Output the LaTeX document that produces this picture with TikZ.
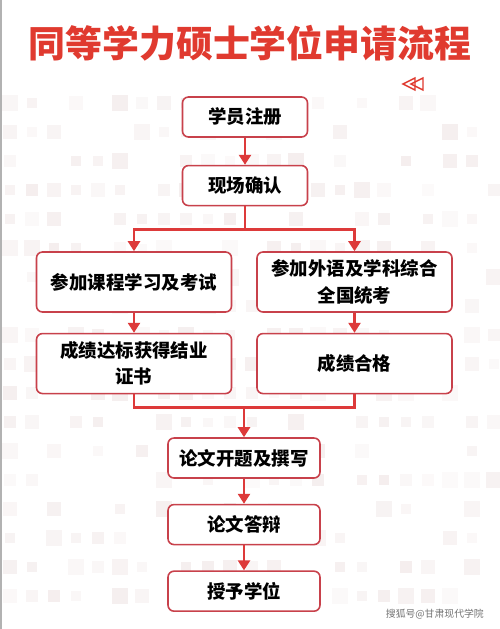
\documentclass[tikz,border=0pt]{standalone}
\usepackage{fontspec}
\setmainfont{Noto Sans CJK SC}
\usetikzlibrary{arrows.meta,positioning}
\definecolor{titlered}{HTML}{E03A2F}
\definecolor{boxred}{HTML}{C8414B}
\definecolor{linered}{HTML}{DD3A3A}
\definecolor{sqcol}{HTML}{E8D8D8}

\begin{document}
\begin{tikzpicture}[
        % Estilos das caixas
        stepbox/.style={rectangle, rounded corners=1.2mm, draw=boxred, line width=0.9pt, fill=white, minimum width=2.5cm, minimum height=0.8cm, align=center, font=\fontsize{10.5}{15}\selectfont\bfseries},
        widebox/.style={stepbox, minimum width=3.9cm, minimum height=1.2cm},
        lowbox/.style={stepbox, minimum width=3.04cm},
        % Estilos das setas
        flowline/.style={line width=1.4pt, draw=linered},
        flowarrow/.style={flowline, -{Triangle[length=2mm, width=2.4mm]}},
        % Estilo do título
        titletext/.style={font=\fontsize{21}{24}\selectfont\bfseries, text=titlered}
    ]

    \useasboundingbox (0,0) rectangle (10,-12.58);
    \fill[white] (0,0) rectangle (10,-12.58);
    \fill[black!30] (0,0) rectangle (0.04,-12.58);

    % Fundo de quadrados claros
    \pgfmathsetseed{11}
    \foreach \r in {0,...,17}{
        \foreach \c in {0,...,22}{
            \pgfmathsetmacro{\p}{rnd}
            \pgfmathsetmacro{\s}{0.18+0.16*rnd}
            \pgfmathsetmacro{\o}{0.12+0.3*rnd}
            \ifdim\p pt>0.35pt
                \fill[sqcol, fill opacity=\o] ({0.2+0.44*\c-\s/2},{-2.06-0.58*\r-\s/2}) rectangle ++(\s,\s);
            \fi
        }
    }

    % Título
    \node[titletext] (title) at (5,-0.86) {同等学力硕士学位申请流程};

    % Símbolo de setas duplas
    \draw[titlered, line width=0.8pt, line join=miter] (8.06,-1.68) -- (8.3,-1.56) -- (8.3,-1.80) -- cycle;
    \draw[titlered, line width=0.8pt, line join=miter] (8.22,-1.68) -- (8.46,-1.56) -- (8.46,-1.80) -- cycle;

    % Etapas iniciais
    \node[stepbox] (reg) at (4.9,-2.34) {学员注册};
    \node[stepbox, below=0.54cm of reg] (confirm) {现场确认};

    % Dois ramos
    \node[widebox] (course) at (2.68,-5.64) {参加课程学习及考试};
    \node[widebox] (exam) at (7.09,-5.64) {参加外语及学科综合\\全国统考};
    \node[widebox, below=0.4cm of course] (cert) {成绩达标获得结业\\证书};
    \node[widebox, below=0.4cm of exam] (pass) {成绩合格};

    % Etapas finais
    \node[lowbox] (thesis) at (4.88,-9.16) {论文开题及撰写};
    \node[lowbox, below=0.5cm of thesis] (defense) {论文答辩};
    \node[lowbox, below=0.5cm of defense] (degree) {授予学位};

    % Marca d'água
    \node[font=\fontsize{5.6}{6}\selectfont, text=black!55, anchor=east] (mark) at (9.8,-12.28) {搜狐号@甘肃现代学院};

    % ==========================================
    % Fluxos
    % ==========================================
    \draw[flowarrow] (reg) -- (confirm);
    \coordinate (split) at ([yshift=-0.46cm]confirm.south);
    \draw[flowline] (confirm.south) -- (split);
    \draw[flowarrow] (split) -| (course.north);
    \draw[flowarrow] (split) -| (exam.north);
    \draw[flowarrow] (course) -- (cert);
    \draw[flowarrow] (exam) -- (pass);

    % Junção dos ramos
    \coordinate (merge) at ([yshift=-0.26cm]cert.south -| thesis.north);
    \draw[flowline] (cert.south) |- (merge) -| (pass.south);
    \draw[flowarrow] (merge) -- (thesis.north);
    \draw[flowarrow] (thesis) -- (defense);
    \draw[flowarrow] (defense) -- (degree);

    \end{tikzpicture}
\end{document}
